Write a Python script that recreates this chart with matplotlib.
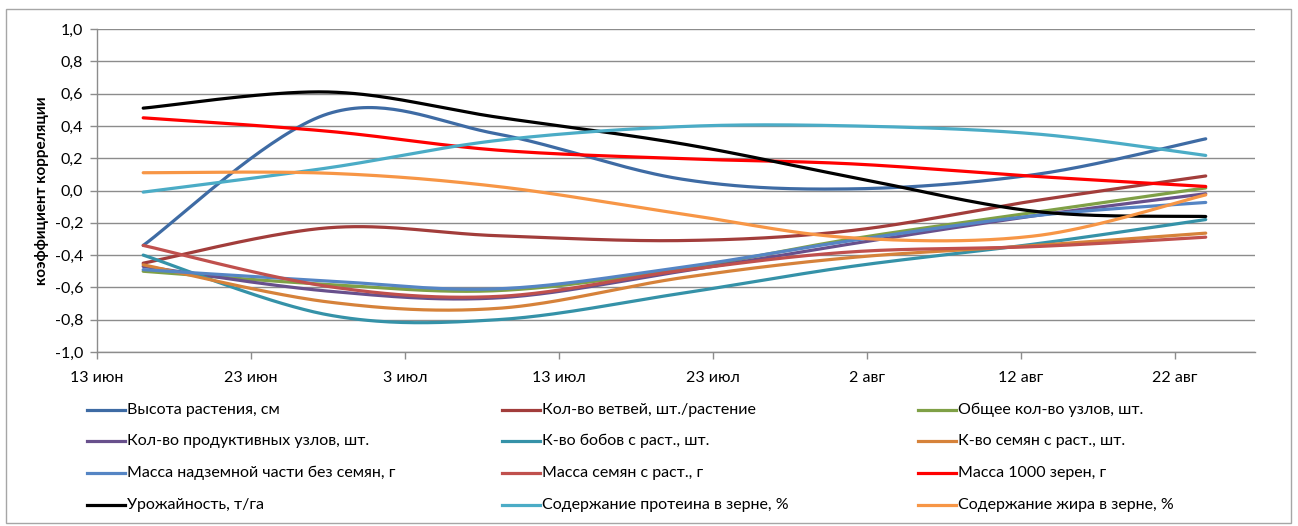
import datetime as dt

import matplotlib

matplotlib.use("Agg")
import matplotlib.dates as mdates
import matplotlib.pyplot as plt
import numpy as np
from matplotlib.lines import Line2D
from matplotlib.patches import Rectangle

plt.rcParams["font.family"] = ["Lato", "DejaVu Sans"]

# sampling dates
dates = [dt.date(2012, 6, 16), dt.date(2012, 6, 28), dt.date(2012, 7, 9),
         dt.date(2012, 7, 21), dt.date(2012, 8, 1), dt.date(2012, 8, 13),
         dt.date(2012, 8, 24)]

names = [
    "Высота растения, см",
    "Кол-во ветвей, шт./растение",
    "Общее кол-во узлов, шт.",
    "Кол-во продуктивных узлов, шт.",
    "К-во бобов с раст., шт.",
    "К-во семян с раст., шт.",
    "Масса надземной части без семян, г",
    "Масса семян с раст., г",
    "Масса 1000 зерен, г",
    "Урожайность, т/га",
    "Содержание протеина в зерне, %",
    "Содержание жира в зерне, %",
]

height = [-0.34, 0.475, 0.35, 0.07, 0.01, 0.10, 0.32]
branches = [-0.45, -0.231, -0.28, -0.31, -0.248, -0.062, 0.09]
nodes_total = [-0.50, -0.582, -0.62, -0.485, -0.30, -0.134, 0.016]
nodes_prod = [-0.47, -0.623, -0.665, -0.50, -0.33, -0.155, -0.02]
pods = [-0.40, -0.77, -0.80, -0.636, -0.47, -0.33, -0.18]
seeds_n = [-0.46, -0.69, -0.73, -0.54, -0.415, -0.34, -0.264]
mass_above = [-0.49, -0.56, -0.609, -0.475, -0.31, -0.155, -0.074]
mass_seeds = [-0.34, -0.594, -0.656, -0.495, -0.38, -0.347, -0.289]
mass_1000 = [0.45, 0.367, 0.25, 0.197, 0.165, 0.087, 0.025]
yield_t = [0.51, 0.61, 0.454, 0.289, 0.083, -0.13, -0.161]
protein = [-0.01, 0.14, 0.31, 0.396, 0.40, 0.35, 0.217]
fat = [0.11, 0.107, 0.025, -0.145, -0.293, -0.28, -0.027]

series = [height, branches, nodes_total, nodes_prod, pods, seeds_n,
          mass_above, mass_seeds, mass_1000, yield_t, protein, fat]

colors = ["#3E6BA4", "#A23D3B", "#7FA046", "#68508C", "#3592A8", "#D6823A",
          "#5585C4", "#C0504D", "#FF0000", "#000000", "#4BACC6", "#F79646"]

tick_dates = [dt.date(2012, 6, 13) + dt.timedelta(days=10 * i) for i in range(8)]
tick_labels = ["13 июн", "23 июн", "3 июл", "13 июл", "23 июл", "2 авг",
               "12 авг", "22 авг"]
y_ticks = np.round(np.arange(-1.0, 1.01, 0.2), 1)

GRID = "#8C8C8C"


def smooth(x, y, sx, sy, n=40):
    """Catmull-Rom style Bezier through the points, built in screen-like units."""
    p = np.column_stack([np.asarray(x) * sx, np.asarray(y) * sy])
    ext = np.vstack([p[0], p, p[-1]])
    out = []
    for i in range(len(p) - 1):
        p0, p1 = ext[i + 1], ext[i + 2]
        c1 = p0 + (ext[i + 2] - ext[i]) / 6.0
        c2 = p1 - (ext[i + 3] - ext[i + 1]) / 6.0
        t = np.linspace(0, 1, n)[:, None]
        seg = ((1 - t) ** 3) * p0 + 3 * ((1 - t) ** 2) * t * c1 \
            + 3 * (1 - t) * t ** 2 * c2 + t ** 3 * p1
        out.append(seg if i == 0 else seg[1:])
    pts = np.vstack(out)
    return pts[:, 0] / sx, pts[:, 1] / sy


W, H = 1298, 526
fig = plt.figure(figsize=(W / 100, H / 100), dpi=100)
ax = fig.add_axes([97 / W, 1 - 352 / H, (1255 - 97) / W, (352 - 29) / H])

xnum = mdates.date2num(dates)
for vals, col in zip(series, colors):
    xs, ys = smooth(xnum, vals, 15.4, 161.5)
    ax.plot(xs, ys, color=col, lw=2.3, solid_capstyle="round")

x0 = mdates.date2num(dt.date(2012, 6, 13))
ax.set_xlim(x0, x0 + 75.2)
ax.set_ylim(-1.0, 1.0)
ax.set_xticks(mdates.date2num(tick_dates))
ax.set_xticklabels(tick_labels)
ax.set_yticks(y_ticks)
ax.set_yticklabels([f"{v:.1f}".replace(".", ",").replace("-0,0", "0,0")
                    for v in y_ticks])
ax.yaxis.grid(True, color=GRID, lw=1.0)
ax.set_axisbelow(True)
for s in ("top", "right"):
    ax.spines[s].set_visible(False)
for s in ("left", "bottom"):
    ax.spines[s].set_color(GRID)
    ax.spines[s].set_linewidth(1.0)
ax.tick_params(axis="both", colors=GRID, length=5, width=1.0,
               labelsize=11.5, labelcolor="#000000")
ax.tick_params(axis="y", pad=5)
ax.tick_params(axis="x", pad=9)
ax.set_ylabel("коэффициент корреляции", fontsize=11, fontweight="bold",
              labelpad=4)

# legend: three columns, four rows
col_x = [87, 502, 918]
row_y = [410, 441, 473, 505]
for i, (name, col) in enumerate(zip(names, colors)):
    cx = col_x[i % 3]
    ry = row_y[i // 3]
    fig.add_artist(Line2D([cx / W, (cx + 38) / W], [1 - ry / H, 1 - ry / H],
                          color=col, lw=2.3, transform=fig.transFigure))
    fig.text((cx + 40) / W, 1 - ry / H, name, fontsize=11.5, va="center",
             ha="left")

fig.add_artist(Rectangle((6 / W, 1 - 523 / H), (1291 - 6) / W, (523 - 9) / H,
                         transform=fig.transFigure, fill=False,
                         edgecolor="#A6A6A6", lw=1.0))

fig.savefig("out.png", dpi=100, facecolor="white")
